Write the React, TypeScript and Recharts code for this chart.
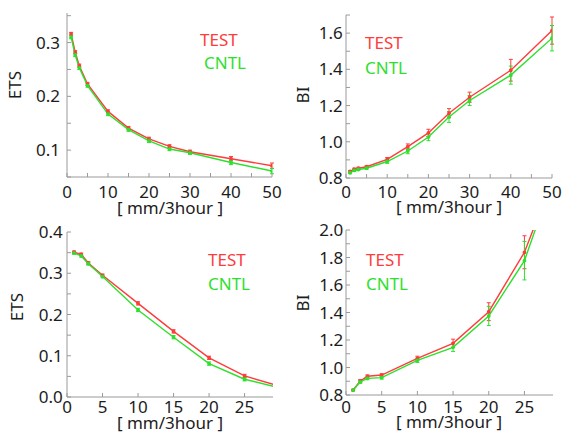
import React from 'react';
import { LineChart, Line, XAxis, YAxis, ErrorBar } from 'recharts';

// ---- top row: x = threshold (mm/3hour)
const xTop = [1, 2, 3, 5, 10, 15, 20, 25, 30, 40, 50];
const etsTopTest = [0.316, 0.282, 0.257, 0.223, 0.172, 0.141, 0.121, 0.107, 0.097, 0.084, 0.071];
const etsTopCntl = [0.31, 0.277, 0.253, 0.22, 0.167, 0.138, 0.117, 0.102, 0.095, 0.077, 0.061];
const etsTopErrTest = [0.003, 0.003, 0.003, 0.003, 0.003, 0.003, 0.003, 0.003, 0.003, 0.004, 0.005];
const etsTopErrCntl = [0.003, 0.003, 0.003, 0.003, 0.003, 0.003, 0.003, 0.003, 0.003, 0.004, 0.005];
const biTopTest = [0.836, 0.849, 0.854, 0.862, 0.903, 0.973, 1.049, 1.158, 1.246, 1.395, 1.614];
const biTopCntl = [0.829, 0.842, 0.847, 0.854, 0.891, 0.949, 1.026, 1.137, 1.228, 1.368, 1.572];
const biTopErrTest = [0.005, 0.005, 0.005, 0.006, 0.01, 0.015, 0.02, 0.025, 0.028, 0.06, 0.075];
const biTopErrCntl = [0.005, 0.005, 0.005, 0.006, 0.01, 0.015, 0.02, 0.03, 0.028, 0.05, 0.07];

// ---- bottom row (the point at 30 lies past the right edge and is clipped)
const xBot = [1, 2, 3, 5, 10, 15, 20, 25, 30];
const etsBotTest = [0.351, 0.346, 0.325, 0.295, 0.227, 0.159, 0.095, 0.051, 0.026];
const etsBotCntl = [0.349, 0.342, 0.323, 0.292, 0.211, 0.145, 0.081, 0.043, 0.022];
const etsBotErrTest = [0.003, 0.003, 0.003, 0.003, 0.004, 0.004, 0.004, 0.004, null];
const etsBotErrCntl = [0.003, 0.003, 0.003, 0.003, 0.004, 0.004, 0.004, 0.004, null];
const biBotTest = [0.836, 0.902, 0.936, 0.945, 1.067, 1.176, 1.406, 1.838, 2.51];
const biBotCntl = [0.836, 0.895, 0.921, 0.926, 1.052, 1.147, 1.375, 1.777, 2.52];
const biBotErrTest = [0.005, 0.01, 0.01, 0.01, 0.015, 0.03, 0.065, 0.12, null];
const biBotErrCntl = [0.005, 0.01, 0.01, 0.01, 0.015, 0.03, 0.07, 0.14, null];

// ---- ticks
const xTicksTop = [0, 5, 10, 15, 20, 25, 30, 35, 40, 45, 50];
const xLabelsTop = [0, 10, 20, 30, 40, 50];
const xTicksBot = [0, 5, 10, 15, 20, 25];
const xLabelsBot = [0, 5, 10, 15, 20, 25];
const etsTicksTop = [0.05, 0.1, 0.15, 0.2, 0.25, 0.3, 0.35];
const etsLabelsTop = [0.1, 0.2, 0.3];
const biTicksTop = [0.8, 0.9, 1.0, 1.1, 1.2, 1.3, 1.4, 1.5, 1.6, 1.7];
const biLabelsTop = [0.8, 1.0, 1.2, 1.4, 1.6];
const etsTicksBot = [0, 0.05, 0.1, 0.15, 0.2, 0.25, 0.3, 0.35, 0.4];
const etsLabelsBot = [0, 0.1, 0.2, 0.3, 0.4];
const biTicksBot = [0.8, 0.9, 1.0, 1.1, 1.2, 1.3, 1.4, 1.5, 1.6, 1.7, 1.8, 1.9, 2.0];
const biLabelsBot = [0.8, 1.0, 1.2, 1.4, 1.6, 1.8, 2.0];

const RED = '#ff3b3b';
const GREEN = '#2ee02e';
const FRAME = '#9a9a9a';
const TEXT = '#1c1c1c';
const FONT = '"Noto Sans", "Open Sans", sans-serif';

const rows = (xs: number[], t: number[], c: number[], et: (number | null)[], ec: (number | null)[]) =>
  xs.map((x, i) => ({ x, test: t[i], cntl: c[i], eT: et[i], eC: ec[i] }));

interface PanelProps {
  box: { x: number; y: number; w: number; h: number };
  data: any[];
  xDomain: [number, number];
  yDomain: [number, number];
  xTicks: number[];
  xLabels: number[];
  yTicks: number[];
  yLabels: number[];
  xTickMargin: number;
  yTickMargin: number;
  yName: string;
  yNamePos: [number, number];
  xNamePos: [number, number];
  legendPos: [number, number, number, number];
}

function Panel(p: PanelProps) {
  const { box } = p;
  const tickStyle = { fontSize: 17, fill: TEXT, fontFamily: FONT };
  const lbl = (v: number) => (p.yLabels.includes(v) ? v.toFixed(1) : '');
  const xl = (v: number) => (p.xLabels.includes(v) ? String(v) : '');
  const text = (s: string, x: number, y: number, color: string) => (
    <div style={{ position: 'absolute', left: x, top: y - 9, lineHeight: '18px', fontSize: 17, color, fontFamily: FONT }}>{s}</div>
  );
  return (
    <>
      <div style={{ position: 'absolute', left: box.x - 50, top: box.y - 20 }}>
        <LineChart
          width={box.w + 60}
          height={box.h + 50}
          data={p.data}
          margin={{ top: 20, right: 10, left: 0, bottom: 0 }}
        >
          <XAxis
            type="number"
            dataKey="x"
            domain={p.xDomain}
            ticks={p.xTicks}
            tickFormatter={xl}
            allowDataOverflow
            height={30}
            tickSize={-4}
            tickMargin={p.xTickMargin}
            stroke={FRAME}
            tick={tickStyle}
            interval={0}
          />
          <XAxis
            xAxisId="top"
            orientation="top"
            type="number"
            dataKey="x"
            domain={p.xDomain}
            ticks={p.xTicks}
            tickFormatter={() => ''}
            allowDataOverflow
            height={0}
            tickSize={-4}
            stroke={FRAME}
            interval={0}
          />
          <YAxis
            type="number"
            domain={p.yDomain}
            ticks={p.yTicks}
            tickFormatter={lbl}
            allowDataOverflow
            width={50}
            tickSize={-4}
            tickMargin={p.yTickMargin}
            stroke={FRAME}
            tick={tickStyle}
            interval={0}
          />
          <YAxis
            yAxisId="right"
            orientation="right"
            type="number"
            domain={p.yDomain}
            ticks={p.yTicks}
            tickFormatter={() => ''}
            allowDataOverflow
            width={0}
            tickSize={-4}
            stroke={FRAME}
            interval={0}
          />
          <Line
            dataKey="test"
            stroke={RED}
            strokeWidth={1.4}
            dot={{ r: 1.2, fill: RED, stroke: RED }}
            isAnimationActive={false}
          >
            <ErrorBar dataKey="eT" width={2} stroke={RED} strokeWidth={1} direction="y" isAnimationActive={false} />
          </Line>
          <Line
            dataKey="cntl"
            stroke={GREEN}
            strokeWidth={1.4}
            dot={{ r: 1.2, fill: GREEN, stroke: GREEN }}
            isAnimationActive={false}
          >
            <ErrorBar dataKey="eC" width={2} stroke={GREEN} strokeWidth={1} direction="y" isAnimationActive={false} />
          </Line>
        </LineChart>
      </div>
      {text('TEST', p.legendPos[0], p.legendPos[1], RED)}
      {text('CNTL', p.legendPos[2], p.legendPos[3], GREEN)}
      <div
        style={{
          position: 'absolute',
          left: p.yNamePos[0] - 30,
          top: p.yNamePos[1] - 9,
          width: 60,
          lineHeight: '18px',
          textAlign: 'center',
          transform: 'rotate(-90deg)',
          fontSize: 17,
          color: TEXT,
          fontFamily: FONT,
        }}
      >
        {p.yName}
      </div>
      <div
        style={{
          position: 'absolute',
          left: p.xNamePos[0] - 60,
          top: p.xNamePos[1] - 8,
          width: 120,
          lineHeight: '16px',
          textAlign: 'center',
          fontSize: 17,
          color: TEXT,
          fontFamily: FONT,
          whiteSpace: 'pre',
        }}
      >
        {'[ mm/3hour ]'}
      </div>
    </>
  );
}

export default function App() {
  return (
    <div style={{ position: 'absolute', left: 0, top: 0, width: 563, height: 432, background: '#fff', overflow: 'hidden' }}>
      <Panel
        box={{ x: 67, y: 13, w: 205, h: 164 }}
        data={rows(xTop, etsTopTest, etsTopCntl, etsTopErrTest, etsTopErrCntl)}
        xDomain={[0, 50]}
        yDomain={[0.05, 0.355]}
        xTicks={xTicksTop}
        xLabels={xLabelsTop}
        yTicks={etsTicksTop}
        yLabels={etsLabelsTop}
        xTickMargin={12.7}
        yTickMargin={11}
        yName="ETS"
        yNamePos={[15, 85]}
        xNamePos={[170, 208]}
        legendPos={[200, 40, 204, 63]}
      />
      <Panel
        box={{ x: 346, y: 15, w: 206, h: 163 }}
        data={rows(xTop, biTopTest, biTopCntl, biTopErrTest, biTopErrCntl)}
        xDomain={[0, 50]}
        yDomain={[0.8, 1.7]}
        xTicks={xTicksTop}
        xLabels={xLabelsTop}
        yTicks={biTicksTop}
        yLabels={biLabelsTop}
        xTickMargin={11.7}
        yTickMargin={7.3}
        yName="BI"
        yNamePos={[303, 95]}
        xNamePos={[449, 207]}
        legendPos={[365, 43, 365, 68]}
      />
      <Panel
        box={{ x: 67, y: 232, w: 206, h: 165 }}
        data={rows(xBot, etsBotTest, etsBotCntl, etsBotErrTest, etsBotErrCntl)}
        xDomain={[0, 29]}
        yDomain={[0, 0.4]}
        xTicks={xTicksBot}
        xLabels={xLabelsBot}
        yTicks={etsTicksBot}
        yLabels={etsLabelsBot}
        xTickMargin={7.7}
        yTickMargin={8.3}
        yName="ETS"
        yNamePos={[17, 307]}
        xNamePos={[170, 423]}
        legendPos={[208, 260, 208, 284]}
      />
      <Panel
        box={{ x: 346, y: 230, w: 207, h: 165 }}
        data={rows(xBot, biBotTest, biBotCntl, biBotErrTest, biBotErrCntl)}
        xDomain={[0, 29]}
        yDomain={[0.8, 2.0]}
        xTicks={xTicksBot}
        xLabels={xLabelsBot}
        yTicks={biTicksBot}
        yLabels={biLabelsBot}
        xTickMargin={9.7}
        yTickMargin={6.7}
        yName="BI"
        yNamePos={[303, 303]}
        xNamePos={[449, 422]}
        legendPos={[366, 260, 366, 284]}
      />
    </div>
  );
}
